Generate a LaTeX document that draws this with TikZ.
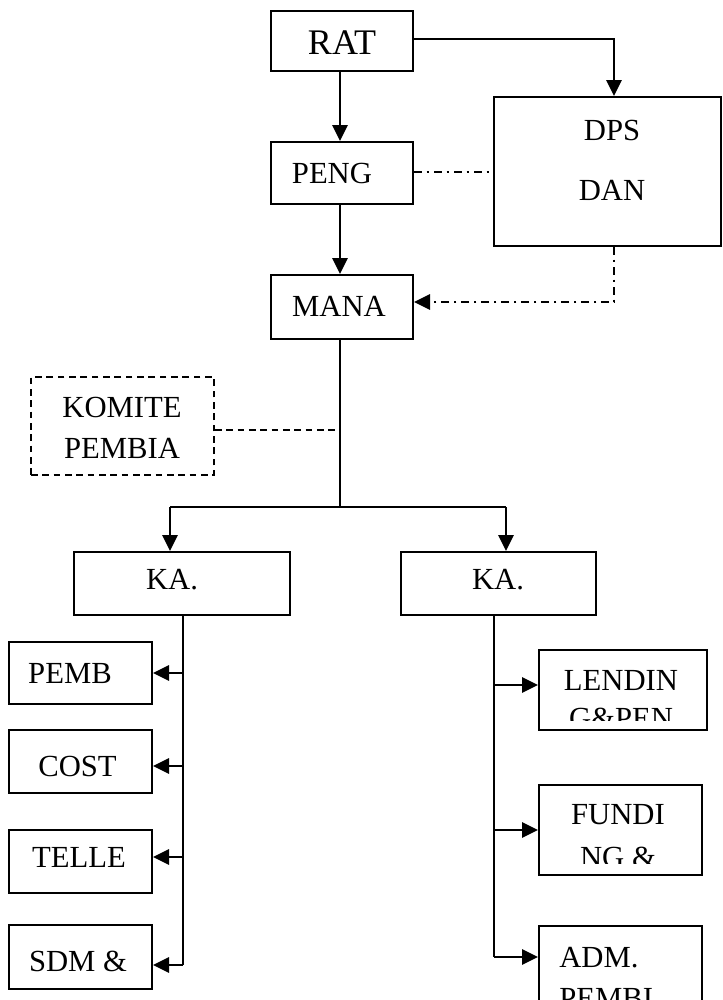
\documentclass[tikz,border=0pt]{standalone}
\usepackage{fontspec}
\setmainfont{Liberation Serif}
\usetikzlibrary{arrows.meta,calc}
\tikzset{
  bx/.style n args={2}{draw,line width=1.5pt,minimum width=#1*0.75pt,minimum height=#2*0.75pt,inner sep=0pt},
  lbl/.style={font=\fontsize{23}{27}\selectfont,inner sep=0pt},
  big/.style={font=\fontsize{27}{31}\selectfont,inner sep=0pt},
  ln/.style={line width=1.5pt},
  arr/.style={line width=1.5pt,-{Triangle[length=12pt,width=11.5pt]}},
  dd/.style={line width=1.5pt,dash pattern=on 6pt off 3.5pt on 2pt off 3.5pt},
  dsh/.style={line width=1.4pt,dash pattern=on 5pt off 3.5pt}
}
\begin{document}
\begin{tikzpicture}[x=0.75pt,y=-0.75pt]
\clip (0,0) rectangle (723,1000);
\useasboundingbox (0,0) rectangle (723,1000);
% boxes
\node[bx={142}{60}] (rat) at (342,41) {};
\node[bx={227}{149}] (dps) at (607.5,171.5) {};
\node[bx={142}{62}] (peng) at (342,173) {};
\node[bx={142}{64}] (mana) at (342,307) {};
\node[bx={183}{98},dsh] (kom) at (122.5,426) {};
\node[bx={216}{63}] (kal) at (182,583.5) {};
\node[bx={195}{63}] (kar) at (498.5,583.5) {};
\node[bx={143}{62}] (pemb) at (80.5,673) {};
\node[bx={143}{63}] (cost) at (80.5,761.5) {};
\node[bx={143}{63}] (telle) at (80.5,861.5) {};
\node[bx={143}{64}] (sdm) at (80.5,957) {};
\node[bx={168}{80}] (lend) at (623,690) {};
\node[bx={163}{90}] (fund) at (620.5,830) {};
\node[bx={163}{90}] (adm) at (620.5,971) {};
% labels
\node[big] (trat) at (342,43) {RAT};
\node[lbl] (tdps) at (612,130) {DPS};
\node[lbl] (tdan) at (612,190) {DAN};
\node[lbl] (tpeng) at (332,173) {PENG};
\node[lbl] (tmana) at (339,306) {MANA};
\node[lbl] (tkom1) at (122,407) {KOMITE};
\node[lbl] (tkom2) at (122,448) {PEMBIA};
\node[lbl] (tkal) at (172,580) {KA.};
\node[lbl] (tkar) at (498,580) {KA.};
\node[lbl] (tpemb) at (70,673) {PEMB};
\node[lbl] (tcost) at (77.5,766) {COST};
\node[lbl] (ttelle) at (79,857) {TELLE};
\node[lbl] (tsdm) at (78,961) {SDM \&};
\node[lbl] (tlend) at (621,680) {LENDIN};
\begin{scope}
\clip (540,700) rectangle (706,720);
\node[lbl] (tlend2) at (621,718) {G\&PEN};
\end{scope}
\node[lbl] (tfund) at (618,815) {FUNDI};
\begin{scope}
\clip (540,835) rectangle (701,863);
\node[lbl] (tfund2) at (618,857) {NG \&};
\end{scope}
\node[lbl,anchor=west] (tadm) at (559,958) {ADM.};
\node[lbl,anchor=west] (tadm2) at (559,998) {PEMBI};
% coordinates
\coordinate (hl) at (170,507);
\coordinate (hr) at (506,507);
\coordinate (hm) at (340,507);
\coordinate (lb) at (183,965);
\coordinate (rb) at (494,957);
\coordinate (kj) at (335,430);
% connectors
\draw[arr] (rat.south -| 340,0) -- (peng.north -| 340,0);
\draw[arr] (rat.east |- 0,39) -| (dps.north -| 614,0);
\draw[dd] (peng.east |- 0,172) -- (dps.west |- 0,172);
\draw[arr] (peng.south -| 340,0) -- (mana.north -| 340,0);
\draw[dd,-{Triangle[length=12pt,width=11.5pt]}] (dps.south -| 614,0) |- (mana.east |- 0,302);
\draw[ln] (mana.south -| hm) -- (hm);
\draw[ln] (hl) -- (hr);
\draw[arr] (hl) -- (kal.north -| hl);
\draw[arr] (hr) -- (kar.north -| hr);
\draw[dsh] (kom.east |- kj) -- (kj);
\draw[ln] (kal.south -| lb) -- (lb);
\draw[arr] (183,673) -- (pemb.east |- 0,673);
\draw[arr] (183,766) -- (cost.east |- 0,766);
\draw[arr] (183,857) -- (telle.east |- 0,857);
\draw[arr] (lb) -- (sdm.east |- lb);
\draw[ln] (kar.south -| rb) -- (rb);
\draw[arr] (494,685) -- (lend.west |- 0,685);
\draw[arr] (494,830) -- (fund.west |- 0,830);
\draw[arr] (rb) -- (adm.west |- rb);
\end{tikzpicture}
\end{document}
